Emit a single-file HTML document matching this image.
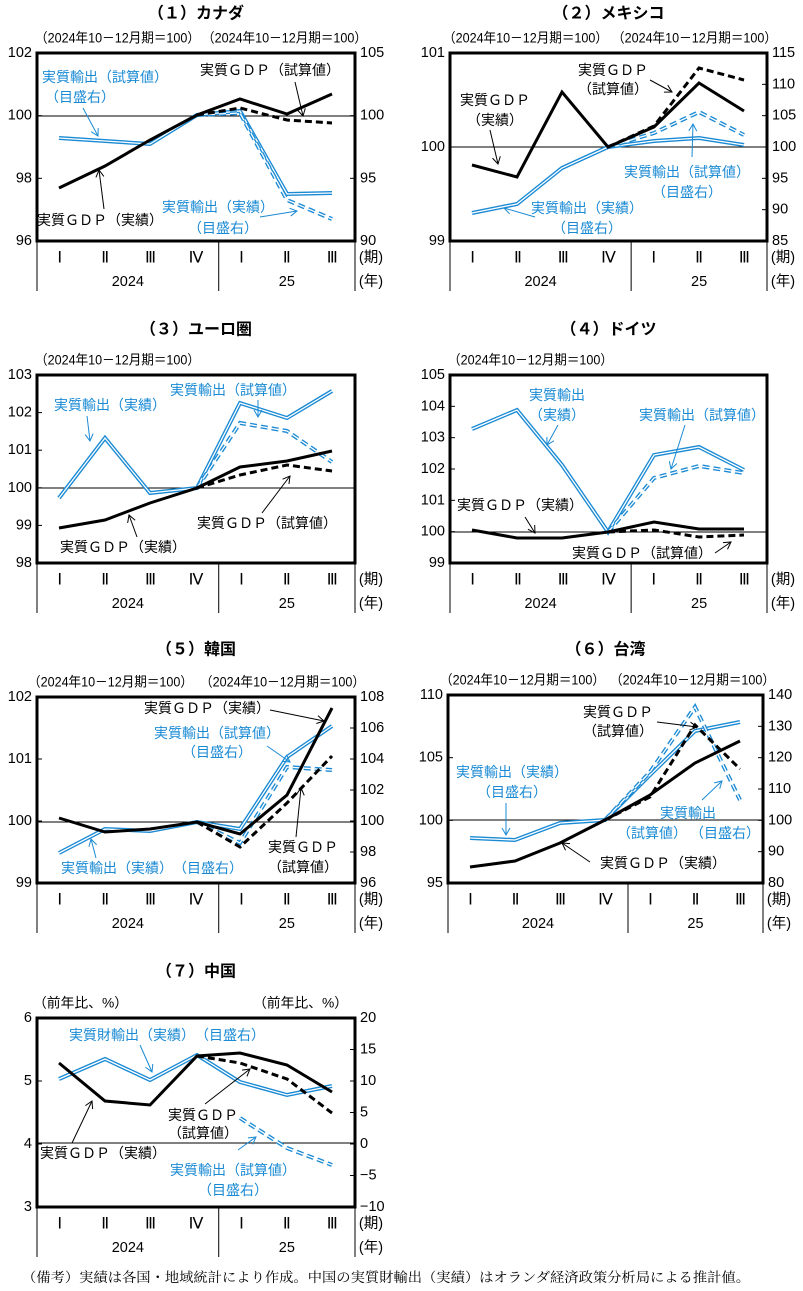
<!DOCTYPE html>
<html><head><meta charset="utf-8">
<style>
html,body{margin:0;padding:0;background:#fff;}
svg{display:block;font-family:"Liberation Sans","Noto Sans CJK JP",sans-serif;}
</style></head>
<body>
<svg id="s" width="803" height="1291" viewBox="0 0 803 1291" xmlns="http://www.w3.org/2000/svg">
<defs>
<marker id="ab" markerWidth="10" markerHeight="10" refX="8" refY="5" orient="auto" markerUnits="userSpaceOnUse"><path d="M1,1 L8,5 L1,9" fill="none" stroke="#000" stroke-width="1"/></marker>
<marker id="au" markerWidth="10" markerHeight="10" refX="8" refY="5" orient="auto" markerUnits="userSpaceOnUse"><path d="M1,1 L8,5 L1,9" fill="none" stroke="#1a8ad4" stroke-width="1"/></marker>
</defs>
<text x="22" y="1282" font-size="13.5" font-family="Liberation Serif,'Noto Serif CJK SC',serif" textLength="728" lengthAdjust="spacingAndGlyphs">（備考）実績は各国・地域統計により作成。中国の実質財輸出（実績）はオランダ経済政策分析局による推計値。</text>
</svg>
<script>
var B="#1a8ad4";
var s=document.getElementById('s');
var out=[];
function T(x,y,t,o){o=o||{};out.push('<text x="'+x+'" y="'+y+'" font-size="'+(o.fs||14)+'" fill="'+(o.c||'#000')+'" text-anchor="'+(o.a||'middle')+'" dominant-baseline="central"'+(o.fw?' font-weight="bold"':'')+(o.tl?' textLength="'+o.tl+'" lengthAdjust="spacingAndGlyphs"':'')+(o.ff?' font-family="'+o.ff+'"':'')+'>'+t+'</text>');}
function L(x1,y1,x2,y2,w,c){out.push('<line x1="'+x1+'" y1="'+y1+'" x2="'+x2+'" y2="'+y2+'" stroke="'+(c||'#000')+'" stroke-width="'+(w||1)+'"/>');}
function A(x1,y1,x2,y2,blue){out.push('<line x1="'+x1+'" y1="'+y1+'" x2="'+x2+'" y2="'+y2+'" stroke="'+(blue?B:'#000')+'" stroke-width="1" marker-end="url(#'+(blue?'au':'ab')+')"/>');}
function P(pts,w,c,dash){var d=pts.map(function(p){return p.join(',')}).join(' ');out.push('<polyline points="'+d+'" fill="none" stroke="'+c+'" stroke-width="'+w+'" stroke-linejoin="miter"'+(dash?' stroke-dasharray="'+dash+'"':'')+'/>');}
function blk(p){P(p,3,'#000');}
function blkd(p){P(p,3,'#000','7,4');}
function dbl(p){P(p,4,B);P(p,1.3,'#fff');}
function dbld(p){P(p,4,B,'7,4');P(p,1.3,'#fff','7,4');}
function panel(o){
 var x0=o.x0,x1=o.x1,y0=o.y0,y1=o.y1;
 T((x0+x1)/2,o.ty,o.title,{fs:16,fw:1});
 if(o.sub) o.sub.forEach(function(sb){T(sb[0],y0-15,sb[1],{fs:13.5,a:'start',tl:sb[2]||165});});
 L(x0,o.z,x1,o.z,1);
 var n=o.lt.length;
 o.lt.forEach(function(t,i){var y=y0+(y1-y0)*i/(n-1);T(x0-5,y,t,{fs:14.5,a:'end'});});
 if(o.rt){var m=o.rt.length;o.rt.forEach(function(t,i){var y=y0+(y1-y0)*i/(m-1);T(x1+5,y,t,{fs:14.5,a:'start'});if(i>0&&i<m-1)L(x1-5,y,x1,y,1);});}
 for(var i=1;i<n-1;i++){var y=y0+(y1-y0)*i/(n-1);L(x0,y,x0+5,y,1);}
 var w=(x1-x0)/7;
 L(x0,y1,x0,y1+50,1);L(x0+4*w,y1,x0+4*w,y1+50,1);L(x1,y1,x1,y1+50,1);
 var R=['Ⅰ','Ⅱ','Ⅲ','Ⅳ','Ⅰ','Ⅱ','Ⅲ'];
 R.forEach(function(r,i){T(x0+w/2+i*w,y1+17,r,{fs:16,ff:"Liberation Serif,serif"});});
 T(x0+2*w,y1+41,'2024',{fs:14.5});T(x0+5.5*w,y1+41,'25',{fs:14.5});
 T(x1+16,y1+17,'(期)',{fs:14.5});T(x1+16,y1+41,'(年)',{fs:14.5});
 o.draw();
 out.push('<rect x="'+x0+'" y="'+y0+'" width="'+(x1-x0)+'" height="'+(y1-y0)+'" fill="none" stroke="#000" stroke-width="3"/>');
 o.ann();
}
var S2='（2024年10－12月期＝100）';
panel({x0:37,x1:355,y0:53,y1:241,z:116,ty:14,title:'（１）カナダ',sub:[[35,S2],[202,S2]],lt:['102','100','98','96'],rt:['105','100','95','90'],
draw:function(){dbl([[59,138],[105,141],[150,144],[197,115],[240,111],[287,194],[332,193]]);dbld([[197,115],[240,113],[287,200],[332,219]]);blkd([[197,115],[240,108],[287,120],[332,123]]);blk([[59,188],[105,166],[150,140],[197,115],[240,99],[287,114],[332,94]]);},
ann:function(){T(105,77,'実質輸出（試算値）',{c:B});T(80,97,'（目盛右）',{c:B});A(83,108,98,136,1);
T(270,70,'実質ＧＤＰ（試算値）');A(295,82,303,116);
T(100,220,'実質ＧＤＰ（実績）');A(104,209,99,170);
T(218,207,'実質輸出（実績）',{c:B});T(223,228,'（目盛右）',{c:B});A(260,217,297,211,1);}});
panel({x0:450,x1:767,y0:53,y1:241,z:147,ty:14,title:'（２）メキシコ',sub:[[443,S2],[612,S2]],lt:['101','100','99'],rt:['115','110','105','100','95','90','85'],
draw:function(){dbl([[472,213],[517,204],[562,168],[608,147],[654,141],[699,138],[744,145]]);dbld([[608,147],[654,133],[699,112],[744,135]]);blkd([[608,147],[654,126],[699,68],[744,80]]);blk([[472,165],[517,177],[562,92],[608,147],[654,127],[699,83],[744,111]]);},
ann:function(){T(495,100,'実質ＧＤＰ');T(495,120,'（実績）');A(490,130,498,164);
T(613,70,'実質ＧＤＰ');T(613,89,'（試算値）');A(650,80,672,92);
T(687,172,'実質輸出（試算値）',{c:B});T(687,192,'（目盛右）',{c:B});A(692,157,693,124,1);
T(587,208,'実質輸出（実績）',{c:B});T(587,228,'（目盛右）',{c:B});A(535,217,504,208,1);}});
panel({x0:37,x1:355,y0:375,y1:563,z:488,ty:330,title:'（３）ユーロ圏',sub:[[35,S2]],lt:['103','102','101','100','99','98'],
draw:function(){dbl([[59,498],[105,438],[150,493],[197,488],[240,403],[287,418],[332,391]]);dbld([[197,488],[240,423],[287,431],[332,462]]);blkd([[197,488],[240,475],[287,465],[332,471]]);blk([[59,528],[105,520],[150,503],[197,488],[240,467],[287,461],[332,451]]);},
ann:function(){T(110,405,'実質輸出（実績）',{c:B});A(87,416,90,441,1);
T(233,390,'実質輸出（試算値）',{c:B});A(258,400,258,417,1);
T(267,523,'実質ＧＤＰ（試算値）');A(262,513,290,476);
T(123,547,'実質ＧＤＰ（実績）');A(137,537,129,515);}});
panel({x0:450,x1:767,y0:375,y1:563,z:532,ty:330,title:'（４）ドイツ',sub:[[448,S2]],lt:['105','104','103','102','101','100','99'],
draw:function(){dbl([[472,429],[517,410],[562,465],[608,532],[654,455],[699,447],[744,470]]);dbld([[608,532],[654,478],[699,466],[744,473]]);blkd([[608,532],[654,530],[699,537],[744,535]]);blk([[472,530],[517,538],[562,538],[608,532],[654,522],[699,529],[744,529]]);},
ann:function(){T(557,395,'実質輸出',{c:B});T(557,415,'（実績）',{c:B});A(558,425,547,445,1);
T(702,415,'実質輸出（試算値）',{c:B});A(685,425,671,469,1);
T(520,505,'実質ＧＤＰ（実績）');A(525,517,535,533);
T(642,553,'実質ＧＤＰ（試算値）');A(715,553,731,542);}});
panel({x0:37,x1:355,y0:697,y1:883,z:822,ty:650,title:'（５）韓国',sub:[[28,S2],[200,S2]],lt:['102','101','100','99'],rt:['108','106','104','102','100','98','96'],
draw:function(){dbl([[59,853],[105,829],[150,831],[197,822],[240,829],[287,757],[332,726]]);dbld([[197,822],[240,843],[287,767],[332,770]]);blkd([[197,822],[240,847],[287,803],[332,756]]);blk([[59,818],[105,832],[150,829],[197,822],[240,834],[287,795],[332,708]]);},
ann:function(){T(207,708,'実質ＧＤＰ（実績）');A(270,710,324,721);
T(217,733,'実質輸出（試算値）',{c:B});T(217,752,'（目盛右）',{c:B});A(267,746,290,762,1);
T(303,847,'実質ＧＤＰ');T(303,867,'（試算値）');A(296,837,301,788);
T(152,868,'実質輸出（実績）　（目盛右）',{c:B});A(96,858,91,839,1);}});
panel({x0:448,x1:763,y0:695,y1:883,z:820,ty:650,title:'（６）台湾',sub:[[440,S2],[610,S2]],lt:['110','105','100','95'],rt:['140','130','120','110','100','90','80'],
draw:function(){dbl([[470,838],[515,840],[560,823],[605,820],[650,775],[695,731],[740,722]]);dbld([[605,820],[650,772],[695,707],[740,800]]);blkd([[605,820],[650,797],[695,725],[740,769]]);blk([[470,867],[515,861],[560,843],[605,820],[650,795],[695,763],[740,741]]);},
ann:function(){T(618,712,'実質ＧＤＰ');T(618,731,'（試算値）');A(657,722,697,727);
T(512,772,'実質輸出（実績）',{c:B});T(512,792,'（目盛右）',{c:B});A(506,803,506,835,1);
T(688,813,'実質輸出',{c:B});T(652,833,'（試算値）',{c:B});T(725,833,'（目盛右）',{c:B});A(702,800,722,781,1);
T(663,863,'実質ＧＤＰ（実績）');A(590,862,562,843);}});
panel({x0:37,x1:355,y0:1018,y1:1207,z:1143,ty:972,title:'（７）中国',sub:[[33,'（前年比、%）',95],[253,'（前年比、%）',95]],lt:['6','5','4','3'],rt:['20','15','10','5','0','−5','−10'],
draw:function(){dbl([[59,1079],[105,1059],[150,1080],[197,1055],[240,1082],[287,1095],[332,1086]]);dbld([[240,1118],[287,1148],[332,1165]]);blkd([[197,1056],[240,1063],[287,1079],[332,1113]]);blk([[59,1063],[105,1101],[150,1105],[197,1056],[240,1053],[287,1065],[332,1092]]);},
ann:function(){T(167,1035,'実質財輸出（実績）　（目盛右）',{c:B});A(140,1045,152,1072,1);
T(203,1115,'実質ＧＤＰ');T(203,1133,'（試算値）');A(205,1104,250,1069);
T(103,1153,'実質ＧＤＰ（実績）');A(72,1143,92,1101);
T(233,1170,'実質輸出（試算値）',{c:B});T(233,1190,'（目盛右）',{c:B});A(238,1150,256,1137,1);}});
s.insertAdjacentHTML('beforeend',out.join(''));
</script>
</body></html>
